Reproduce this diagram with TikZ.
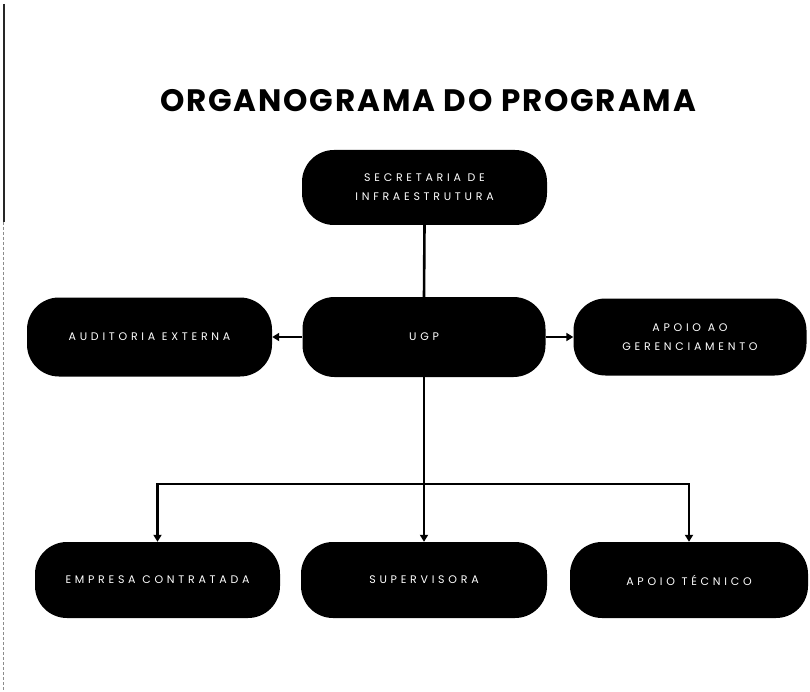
\documentclass[tikz,border=0pt]{standalone}
\usepackage{fontspec}
\setmainfont{Poppins}
\newfontfamily\boxfont[LetterSpace=34]{Poppins}
\newfontfamily\titlefont[LetterSpace=6]{Poppins}
\usetikzlibrary{arrows.meta}
\begin{document}
\begin{tikzpicture}[x=1pt,y=-1pt,
  orgbox/.style={fill=black, rounded corners=32pt, minimum height=78pt,
    text=white, align=center, font=\boxfont\fontsize{11}{19}\selectfont, inner sep=0pt},
  conn/.style={line width=2.6pt, draw=black},
  arr/.style={conn, -{Triangle[length=7pt,width=8pt]}}]
\useasboundingbox (0,0) rectangle (810,692);
% scanned edge artifact
\draw[line width=2.5pt, black!85] (4,4) -- (4,222);
\draw[line width=0.8pt, black!45, dash pattern=on 3pt off 2pt] (3,222) -- (3,690);
% title
\node (title) at (428,101) {\titlefont\bfseries\fontsize{31}{34}\selectfont ORGANOGRAMA DO PROGRAMA};
% nodes
\node[orgbox, minimum width=245pt, minimum height=75pt] (sec) at (424.5,187.5) {SECRETARIA DE\\INFRAESTRUTURA};
\node[orgbox, minimum width=243pt, minimum height=80pt] (ugp) at (424,337) {UGP};
\node[orgbox, minimum width=245pt, minimum height=79pt] (aud) at (149.5,337) {AUDITORIA EXTERNA};
\node[orgbox, minimum width=233pt, minimum height=77pt] (apo) at (690,337) {APOIO AO\\GERENCIAMENTO};
\node[orgbox, minimum width=245pt, minimum height=76pt] (emp) at (157.5,580) {EMPRESA CONTRATADA};
\node[orgbox, minimum width=246pt, minimum height=76pt] (sup) at (424,580) {SUPERVISORA};
\node[orgbox, minimum width=238pt, minimum height=76pt] (tec) at (689,580) {APOIO TÉCNICO};
\coordinate (bus) at (424,484);
% connectors
\draw[conn] (sec.south) -- (ugp.north);
\draw[arr] (ugp.west) -- (aud.east);
\draw[arr] (ugp.east) -- (apo.west);
\draw[conn] (ugp.south) -- (bus);
\draw[arr] (bus) -- (sup.north);
\draw[arr] (bus) -| (emp.north);
\draw[arr] (bus) -| (tec.north);
\end{tikzpicture}
\end{document}
